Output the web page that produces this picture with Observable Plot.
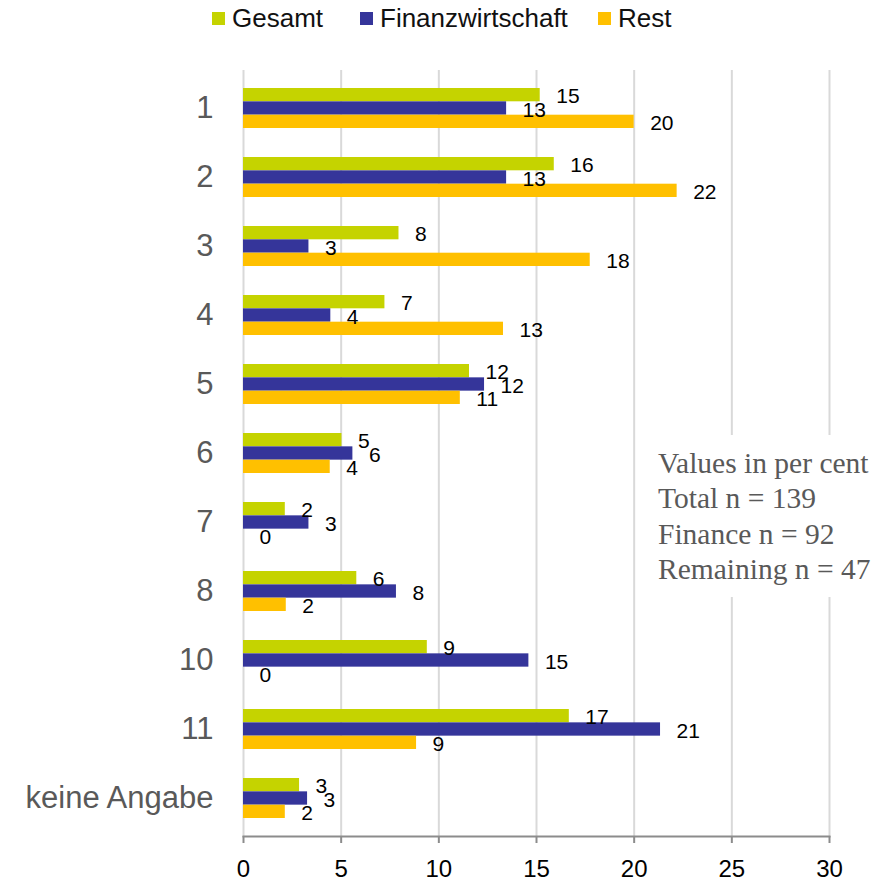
<!DOCTYPE html>
<html>
<head>
<meta charset="utf-8">
<script src="https://cdn.jsdelivr.net/npm/d3@7"></script>
<script src="https://cdn.jsdelivr.net/npm/@observablehq/plot@0.6"></script>
<style>
  body { margin: 0; background: #fff; width: 889px; height: 882px; position: relative; overflow: hidden; font-family: "Liberation Sans", Arial, sans-serif; }
  #legend { height: 36px; position: relative; font-size: 26px; line-height: 36px; color: #111; }
  #legend .item { position: absolute; top: 0; display: flex; align-items: center; height: 36px; }
  #legend .sw { width: 13px; height: 13px; margin-right: 7px; }
  #chart svg { display: block; }
  #note { position: absolute; left: 640px; top: 435px; width: 242px; height: 162px; background: #fff; box-sizing: border-box; padding: 11px 0 0 18px; font-family: "Liberation Serif", "Times New Roman", serif; font-size: 29.5px; line-height: 35.3px; color: #595959; white-space: nowrap; }
</style>
</head>
<body>
<div id="legend"></div>
<div id="chart"></div>
<div id="note"></div>
<script>
const categories = ["1", "2", "3", "4", "5", "6", "7", "8", "10", "11", "keine Angabe"];
const seriesNames = ["Gesamt", "Finanzwirtschaft", "Rest"];
const seriesColors = ["#c5d300", "#35359a", "#ffc000"];
const gesamt = [15.19, 15.91, 7.96, 7.24, 11.57, 5.04, 2.14, 5.80, 9.41, 16.68, 2.87];
const finanz = [13.47, 13.47, 3.35, 4.47, 12.34, 5.60, 3.35, 7.83, 14.61, 21.35, 3.28];
const rest   = [20.00, 22.20, 17.75, 13.31, 11.10, 4.44, 0.00, 2.19, 0.00, 8.86, 2.14];
const xTicks = [0, 5, 10, 15, 20, 25, 30];
const noteLines = ["Values in per cent", "Total n = 139", "Finance n = 92", "Remaining n = 47"];

const seriesValues = [gesamt, finanz, rest];
const rows = [];
seriesNames.forEach((s, si) => {
  categories.forEach((c, ci) => rows.push({series: s, si, category: c, value: seriesValues[si][ci]}));
});

// legend
const legend = document.getElementById("legend");
const legendLeft = [212, 360, 598];
seriesNames.forEach((s, i) => {
  const it = document.createElement("div");
  it.className = "item";
  it.style.left = legendLeft[i] + "px";
  it.innerHTML = `<span class="sw" style="background:${seriesColors[i]}"></span><span>${s}</span>`;
  legend.appendChild(it);
});
document.getElementById("note").innerHTML = noteLines.map(l => `<div>${l}</div>`).join("");

const marginTop = 34, marginBottom = 46, height = 846;
const paddingInner = 0.425, paddingOuter = paddingInner / 2;
const step = (height - marginTop - marginBottom) / categories.length;
const bw = step * (1 - paddingInner);
const third = bw / 3;

const barMarks = seriesNames.map((s, si) =>
  Plot.barX(rows.filter(d => d.si === si), {
    x: "value", y: "category", fill: seriesColors[si],
    insetTop: third * si, insetBottom: third * (2 - si)
  })
);
const labelMarks = seriesNames.map((s, si) =>
  Plot.text(rows.filter(d => d.si === si), {
    x: "value", y: "category", text: d => d3.format(".0f")(d.value),
    dx: 16, dy: (si - 1) * third + 1.5, textAnchor: "start", fontSize: 21, fill: "#000"
  })
);

const chart = Plot.plot({
  width: 889,
  height,
  marginTop, marginBottom,
  marginLeft: 243, marginRight: 60,
  style: {fontFamily: "'Liberation Sans', Arial, sans-serif", background: "#fff"},
  x: {domain: [0, 30], label: null},
  y: {domain: categories, paddingInner, paddingOuter, label: null},
  marks: [
    Plot.gridX(xTicks, {stroke: "#d9d9d9", strokeOpacity: 1, strokeWidth: 2}),
    ...barMarks,
    ...labelMarks,
    Plot.frame({anchor: "bottom", stroke: "#8c8c8c", strokeWidth: 2}),
    Plot.axisX(xTicks, {tickSize: 7, tickPadding: 16, fontSize: 24, stroke: "#8c8c8c", strokeWidth: 2, fill: "#000", label: null}),
    Plot.axisY({tickSize: 0, tickPadding: 30, fontSize: 31, fill: "#595959", label: null})
  ]
});
document.getElementById("chart").appendChild(chart);
</script>
</body>
</html>
